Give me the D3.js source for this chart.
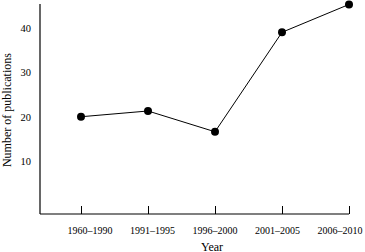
<!DOCTYPE html>
<html>
<head>
<meta charset="utf-8">
<script src="https://cdn.jsdelivr.net/npm/d3@7"></script>
<style>
  body { margin: 0; background: #fff; }
  svg { display: block; font-family: "Liberation Serif", "DejaVu Serif", serif; }
</style>
</head>
<body>
<div id="chart"></div>
<script>
const periods = ['1960–1990', '1991–1995', '1996–2000', '2001–2005', '2006–2010'];
const publications = [20, 21.3, 16.6, 39.1, 45.4];
const yTicks = [10, 20, 30, 40];

const width = 365;
const height = 252;
const margin = { top: 4, right: 16, bottom: 38, left: 40 };

const svg = d3.select('#chart').append('svg').attr('width', width).attr('height', height);

const xScale = d3.scalePoint().domain(periods).range([81, width - margin.right]);
// tick labels in the source sit a little off their ticks
const labelScale = d3.scalePoint().domain(periods).range([90, 340]);
const yScale = d3.scaleLinear().domain([-2, 45.5]).range([height - margin.bottom, margin.top]);

const base = height - margin.bottom;

// axis lines
svg.append('line')
    .attr('x1', margin.left).attr('x2', margin.left)
    .attr('y1', margin.top).attr('y2', base)
    .attr('stroke', '#000').attr('stroke-width', 1.2);
svg.append('line')
    .attr('x1', margin.left).attr('x2', xScale(periods[periods.length - 1]))
    .attr('y1', base).attr('y2', base)
    .attr('stroke', '#000').attr('stroke-width', 1.2);

const xAxis = d3.axisBottom(xScale).tickSizeInner(-8).tickSizeOuter(0).tickFormat('');
const gx = svg.append('g').attr('transform', `translate(0, ${base})`).call(xAxis);
gx.select('.domain').remove();
gx.selectAll('line').attr('stroke', '#000');

svg.append('g').selectAll('text').data(periods).join('text')
    .attr('x', (d) => labelScale(d))
    .attr('y', base + 19.5)
    .attr('text-anchor', 'middle')
    .attr('font-size', 10)
    .text((d) => d);

const yAxis = d3.axisLeft(yScale).tickValues(yTicks).tickSize(0).tickPadding(9);
const gy = svg.append('g').attr('transform', `translate(${margin.left}, 0)`).call(yAxis);
gy.select('.domain').remove();
gy.selectAll('text').attr('font-size', 10.5).attr('fill', '#000')
    .attr('font-family', '"Liberation Serif", serif');

// titles
svg.append('text')
    .attr('transform', `translate(10.5, ${yScale(21.5)}) rotate(-90)`)
    .attr('text-anchor', 'middle')
    .attr('font-size', 12)
    .text('Number of publications');
svg.append('text')
    .attr('x', 212).attr('y', 250.5)
    .attr('text-anchor', 'middle')
    .attr('font-size', 12)
    .text('Year');

// line and points
const line = d3.line().x((d, i) => xScale(periods[i])).y((d) => yScale(d));
svg.append('path').datum(publications)
    .attr('d', line).attr('fill', 'none').attr('stroke', '#000').attr('stroke-width', 1);
svg.append('g').selectAll('circle').data(publications).join('circle')
    .attr('cx', (d, i) => xScale(periods[i]))
    .attr('cy', (d) => yScale(d))
    .attr('r', 4)
    .attr('fill', '#000');
</script>
</body>
</html>
